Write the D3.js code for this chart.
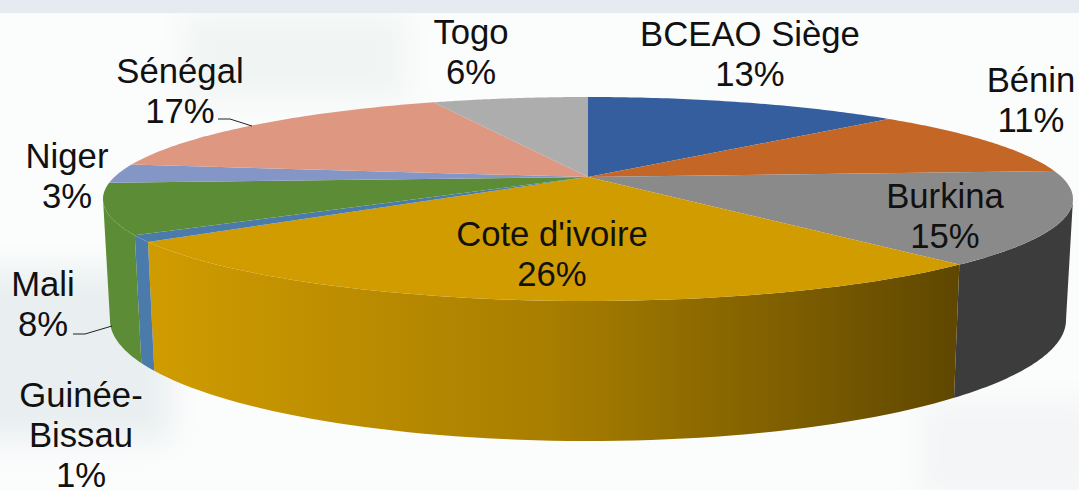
<!DOCTYPE html>
<html><head><meta charset="utf-8">
<script src="https://cdn.jsdelivr.net/npm/d3@7"></script>
<style>html,body{margin:0;padding:0;background:#fff;overflow:hidden}svg{display:block}
text{font-family:"Liberation Sans",Arial,sans-serif;font-size:34.7px;fill:#111;text-anchor:middle}</style>
</head><body><script>
const categories=["BCEAO Siège","Bénin","Burkina","Cote d'ivoire","Guinée-Bissau","Mali","Niger","Sénégal","Togo"];
const shares=[13,11,14.6,26.49,1,8,3,16.51,6.4];
const percentLabels=["13%","11%","15%","26%","1%","8%","3%","17%","6%"];
const topColors=["#355e9f","#c46626","#8a8a8a","#d09c00","#4a7bab","#5d8c37","#8496c6","#de9780","#adadad"];
const sideColors=[null,null,"#3c3c3c","url(#cote)","#4a7bab","#5d8c37",null,null,null];
const labelLines=[["BCEAO Siège"],["Bénin"],["Burkina"],["Cote d'ivoire"],["Guinée-","Bissau"],["Mali"],["Niger"],["Sénégal"],["Togo"]];
const labelX=[750,1031,945,552,81,43,67,180,471];
const labelY=[46,92,208,246,407,296,168,83,44];
const W=1079,H=490,lineGap=40;
const topE={cx:588,cy:199,rx:485,ry:102,a:-22/102};
const botE={cx:588,cy:320,rx:478,ry:121,a:-22/102};
const tRight=Math.acos(topE.a),tLeft=2*Math.PI-tRight;
function project(e,t){
  const u=Math.sin(t),v=-Math.cos(t),d=1+e.a*v;
  return [e.cx+e.rx*u*Math.sqrt(1-e.a*e.a)/d, e.cy+e.ry*(v+e.a)/d];
}
const svg=d3.select("body").append("svg").attr("width",W).attr("height",H);
const defs=svg.append("defs");
defs.append("filter").attr("id","soft").attr("filterUnits","userSpaceOnUse")
  .attr("x",-100).attr("y",-100).attr("width",W+200).attr("height",H+200)
  .append("feGaussianBlur").attr("stdDeviation",14);
const grad=defs.append("linearGradient").attr("id","cote").attr("gradientUnits","userSpaceOnUse")
  .attr("x1",145).attr("x2",958).attr("y1",0).attr("y2",0);
grad.append("stop").attr("offset",0).attr("stop-color","#d09c00");
grad.append("stop").attr("offset",0.5).attr("stop-color","#a87e00");
grad.append("stop").attr("offset",1).attr("stop-color","#5f4700");
const bg=svg.append("g");
bg.append("rect").attr("width",W).attr("height",H).attr("fill","#fbfcfc");
const soft=bg.append("g").attr("filter","url(#soft)");
soft.append("rect").attr("x",185).attr("y",15).attr("width",220).attr("height",85).attr("fill","#f0f5f3");
soft.append("rect").attr("x",-30).attr("y",270).attr("width",200).attr("height",170).attr("fill","#e9eff0");
soft.append("rect").attr("x",920).attr("y",400).attr("width",179).attr("height",100).attr("fill","#f4f5f6");
bg.append("rect").attr("width",W).attr("height",13).attr("fill","#e6eaf1");
const pie=d3.pie().sort(null).value(d=>d)(shares);
const line=d3.line();
const samples=(a,b)=>d3.range(0,61).map(i=>a+(b-a)*i/60);
const faces=svg.append("g");
pie.forEach((p,i)=>{
  if(!sideColors[i])return;
  const ts=samples(Math.max(p.startAngle,tRight),Math.min(p.endAngle,tLeft));
  const pts=ts.map(t=>project(topE,t)).concat(ts.slice().reverse().map(t=>project(botE,t)));
  faces.append("path").attr("d",line(pts)+"Z").attr("fill",sideColors[i]);
});
const apex=[topE.cx,topE.cy+topE.ry*topE.a];
pie.forEach((p,i)=>{
  const pts=[apex].concat(samples(p.startAngle,p.endAngle).map(t=>project(topE,t)));
  faces.append("path").attr("d",line(pts)+"Z").attr("fill",topColors[i]);
});
const leaders=[[[218,119],[230,119],[252,126]],[[73,334],[85,334],[112,326]]];
svg.append("g").selectAll("path").data(leaders).join("path").attr("d",line)
  .attr("fill","none").attr("stroke","#222").attr("stroke-width",1);
const labels=svg.append("g");
categories.forEach((c,i)=>{
  const ls=labelLines[i].concat(percentLabels[i]);
  const t=labels.append("text").attr("x",labelX[i]).attr("y",labelY[i]);
  ls.forEach((s,j)=>t.append("tspan").attr("x",labelX[i]).attr("dy",j?lineGap:0).text(s));
});
</script></body></html>
